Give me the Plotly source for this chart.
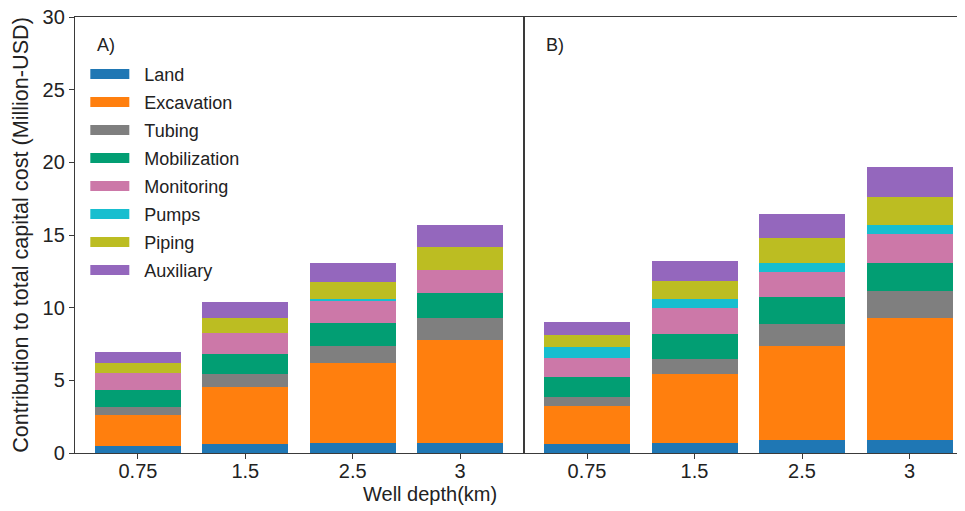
import plotly.graph_objects as go

depths = ["0.75", "1.5", "2.5", "3"]
components = ["Land", "Excavation", "Tubing", "Mobilization", "Monitoring", "Pumps", "Piping", "Auxiliary"]
colors = ["#1f77b4", "#ff7f0e", "#7f7f7f", "#029e73", "#cc78a8", "#17becf", "#bcbd22", "#9467bd"]

# Panel A values (Million USD)
a_land = [0.50, 0.62, 0.71, 0.72]
a_excavation = [2.14, 3.90, 5.46, 7.04]
a_tubing = [0.55, 0.89, 1.21, 1.55]
a_mobilization = [1.12, 1.40, 1.56, 1.69]
a_monitoring = [1.20, 1.47, 1.53, 1.57]
a_pumps = [0.00, 0.00, 0.10, 0.00]
a_piping = [0.66, 1.03, 1.18, 1.59]
a_auxiliary = [0.76, 1.10, 1.30, 1.55]

# Panel B values (Million USD)
b_land = [0.62, 0.71, 0.89, 0.89]
b_excavation = [2.59, 4.73, 6.47, 8.42]
b_tubing = [0.64, 1.01, 1.52, 1.86]
b_mobilization = [1.38, 1.76, 1.84, 1.93]
b_monitoring = [1.33, 1.77, 1.76, 1.97]
b_pumps = [0.73, 0.64, 0.62, 0.64]
b_piping = [0.83, 1.22, 1.67, 1.93]
b_auxiliary = [0.92, 1.37, 1.68, 2.06]

panel_a = [a_land, a_excavation, a_tubing, a_mobilization, a_monitoring, a_pumps, a_piping, a_auxiliary]
panel_b = [b_land, b_excavation, b_tubing, b_mobilization, b_monitoring, b_pumps, b_piping, b_auxiliary]

FONT = "Liberation Sans, Arial, sans-serif"
TXT = "#222222"
LINE = "#3a3a3a"
NB = "\u00a0\u00a0"

fig = go.Figure()
for name, col, va, vb in zip(components, colors, panel_a, panel_b):
    fig.add_trace(go.Bar(x=depths, y=va, name=name, marker=dict(color=col, line=dict(width=0)),
                         xaxis="x", yaxis="y", showlegend=False, legendgroup=name))
    fig.add_trace(go.Bar(x=depths, y=vb, name=name, marker=dict(color=col, line=dict(width=0)),
                         xaxis="x2", yaxis="y2", showlegend=False, legendgroup=name))
    # legend entry (wide swatch)
    fig.add_trace(go.Scatter(x=[None], y=[None], mode="lines", name=NB + name,
                             line=dict(color=col, width=13), xaxis="x", yaxis="y",
                             legendgroup=name, showlegend=True))

# page has an 8px body margin: the figure is offset by (8, 8) in the window
OFF = 8
W, H = 965 - OFF, 511 - OFF
ml, mt, mb = 75 - OFF, 17 - OFF, 58
plot_w = W - ml
plot_h = H - mt - mb
split = (524 - 75) / plot_w

axis_common = dict(showgrid=False, zeroline=False, showline=True, linecolor=LINE, linewidth=1.3,
                   ticklen=5, tickcolor=LINE, tickwidth=1.2, automargin=False,
                   ticklabeloverflow="allow",
                   tickfont=dict(family=FONT, size=20, color=TXT))

fig.update_layout(
    width=W, height=H,
    margin=dict(l=ml, r=0, t=mt, b=mb, pad=0, autoexpand=False),
    paper_bgcolor="white", plot_bgcolor="white",
    barmode="stack", bargap=0.2,
    font=dict(family=FONT, size=18, color=TXT),
    xaxis=dict(domain=[0, split], range=[-0.586, 3.595], type="category", mirror=True, anchor="y",
               ticks="outside", ticklabelstandoff=-5, **axis_common),
    xaxis2=dict(domain=[split, 1], range=[-0.586, 3.516], type="category", mirror=True, anchor="y2",
                ticks="outside", ticklabelstandoff=-5, **axis_common),
    yaxis=dict(range=[0, 30], dtick=5, anchor="x", mirror=True, ticks="outside",
               title=dict(text="Contribution to total capital cost (Million-USD)",
                          font=dict(family=FONT, size=21.6, color=TXT), standoff=10),
               **axis_common),
    yaxis2=dict(range=[0, 30], dtick=5, anchor="x2", showticklabels=False, ticks="",
                **axis_common),
    legend=dict(x=0.0116, y=0.911, xanchor="left", yanchor="top", bgcolor="rgba(0,0,0,0)",
                font=dict(family=FONT, size=18, color=TXT), tracegroupgap=1.6,
                itemwidth=39, traceorder="grouped"),
    annotations=[
        dict(text="A)", xref="x domain", yref="y domain", x=(95 - 75) / 449, y=(453 - 45) / plot_h,
             showarrow=False, xanchor="left", yanchor="middle",
             font=dict(family=FONT, size=18, color=TXT)),
        dict(text="B)", xref="x2 domain", yref="y2 domain", x=(95 - 75) / 449, y=(453 - 45) / plot_h,
             showarrow=False, xanchor="left", yanchor="middle",
             font=dict(family=FONT, size=18, color=TXT)),
        dict(text="Well depth(km)", xref="paper", yref="paper", x=(430 - 75) / plot_w,
             y=-(494 - 453) / plot_h, showarrow=False, xanchor="center", yanchor="middle",
             font=dict(family=FONT, size=20, color=TXT)),
    ],
)

fig.write_html("out.html")
